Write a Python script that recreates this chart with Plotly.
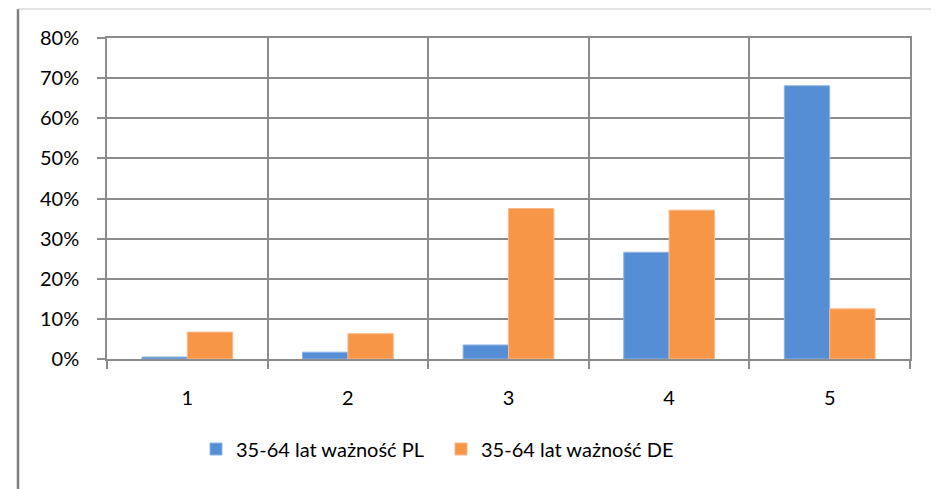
import plotly.graph_objects as go

categories = ["1", "2", "3", "4", "5"]
pl_values = [0.005, 0.017, 0.035, 0.266, 0.681]
de_values = [0.067, 0.063, 0.375, 0.371, 0.125]
series_names = ["35-64 lat ważność PL", "35-64 lat ważność DE"]

grid = "#8c8c8c"
font = dict(family="Lato, 'Open Sans', sans-serif", size=20, color="#000000")

fig = go.Figure()
fig.add_trace(go.Bar(x=categories, y=pl_values, name=series_names[0],
                     marker=dict(color="#558ED5", line=dict(color="#8fb4e3", width=1))))
fig.add_trace(go.Bar(x=categories, y=de_values, name=series_names[1],
                     marker=dict(color="#F79646", line=dict(color="#fab88a", width=1))))

# page body has an 8px margin, so figure coords = page coords - 8
OFF = 8
L, R, T, B = 107 - OFF, 910 - OFF, 38 - OFF, 359 - OFF
def px(x):
    return (x - OFF - L) / (R - L)
def py(y):
    return (B - (y - OFF)) / (B - T)

# outer chart frame
shapes = [
    dict(type="line", xref="paper", yref="paper", x0=px(18), x1=px(18), y0=py(9), y1=py(520),
         line=dict(color="#7f7f7f", width=2.5)),
    dict(type="line", xref="paper", yref="paper", x0=px(18), x1=px(937), y0=py(9), y1=py(9),
         line=dict(color="#c8c8c8", width=1.2)),
    dict(type="line", xref="paper", yref="paper", x0=px(937), x1=px(937), y0=py(9), y1=py(520),
         line=dict(color="#c8c8c8", width=1.2)),
]

fig.update_layout(
    width=939, height=489,
    margin=dict(l=L, r=939 - R, t=T, b=489 - B),
    paper_bgcolor="white", plot_bgcolor="white",
    font=font,
    barmode="group", bargap=0.435, bargroupgap=0,
    showlegend=True,
    legend=dict(orientation="h", x=px(196), xanchor="left", y=py(449), yanchor="middle",
                font=font, entrywidth=200, traceorder="normal"),
    shapes=shapes,
)
fig.update_xaxes(type="category", tickson="boundaries", showgrid=True, gridcolor=grid, gridwidth=1.5,
                 showline=True, linecolor=grid, linewidth=1.5, mirror=True,
                 ticks="outside", ticklen=8, tickcolor=grid, tickwidth=1.5,
                 ticklabelstandoff=20)
fig.update_yaxes(range=[0, 0.8], dtick=0.1, tickformat=".0%", showgrid=True, gridcolor=grid,
                 gridwidth=1.5, zeroline=False, showline=True, linecolor=grid, linewidth=1.5,
                 mirror=True, ticks="outside", ticklen=8, tickcolor=grid, tickwidth=1.5,
                 ticklabelstandoff=14)

fig.write_html("out.html")
